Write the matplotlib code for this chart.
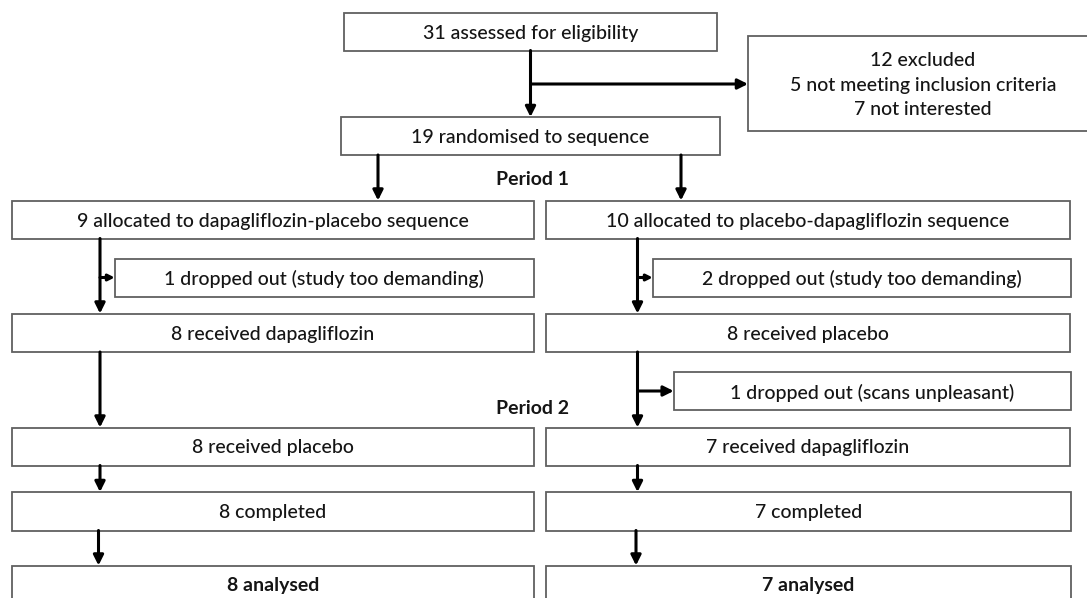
import matplotlib
matplotlib.use("Agg")
import matplotlib.pyplot as plt
from matplotlib.patches import Rectangle

# ---- data (counts and labels) ----
assessed = 31
excluded = 12
excluded_reasons = ["not meeting inclusion criteria", "not interested"]
excluded_counts = [5, 7]
randomised = 19
sequences = ["dapagliflozin-placebo", "placebo-dapagliflozin"]
allocated = [9, 10]
dropout_p1 = [1, 2]
dropout_p1_reason = ["study too demanding", "study too demanding"]
period1_drug = ["dapagliflozin", "placebo"]
received_p1 = [8, 8]
dropout_p2 = [0, 1]
dropout_p2_reason = ["", "scans unpleasant"]
period2_drug = ["placebo", "dapagliflozin"]
received_p2 = [8, 7]
completed = [8, 7]
analysed = [8, 7]
period_labels = ["Period 1", "Period 2"]

# ---- layout ----
W, H = 1087, 598
fig = plt.figure(figsize=(W / 100, H / 100), dpi=100)
ax = fig.add_axes([0, 0, 1, 1])
ax.set_xlim(0, W)
ax.set_ylim(H, 0)
ax.axis("off")

FONT = "Lato"
FS = 14
BOX_EC = "#606060"
BOX_LW = 1.3
ARR_LW = 2.2
TXT = "#151515"
DY = 1.5  # small downward text offset


def box(x0, y0, x1, y1, text, bold=False, ty=None, ls=1.3):
    r = Rectangle((x0, y0), x1 - x0, y1 - y0, facecolor="white",
                  edgecolor=BOX_EC, linewidth=BOX_LW, clip_on=True)
    ax.add_patch(r)
    if text:
        yc = (y0 + y1) / 2 + DY if ty is None else ty
        ax.text((x0 + x1) / 2, yc, text,
                ha="center", va="center", fontsize=FS, family=FONT,
                fontweight="bold" if bold else "medium", color=TXT,
                linespacing=ls)


def arrow(x0, y0, x1, y1, ms=10):
    ax.annotate("", xy=(x1, y1), xytext=(x0, y0),
                arrowprops=dict(arrowstyle="-|>,head_length=0.6,head_width=0.3",
                                lw=ARR_LW, color="black", shrinkA=0, shrinkB=0,
                                mutation_scale=ms))


# top
box(343.5, 12.5, 717, 50.5, f"{assessed} assessed for eligibility")
excl_text = f"{excluded} excluded\n" + "\n".join(
    f"{c} {r}" for c, r in zip(excluded_counts, excluded_reasons))
box(748, 36, 1098, 131, excl_text, ty=85, ls=1.52)
box(340.5, 117, 720, 155, f"{randomised} randomised to sequence")
arrow(530.5, 50.5, 530.5, 117)
arrow(530.5, 84, 748, 84)

# arms
L = [11.5, 534]
R = [546, 1069.5]
cols = [L, R]
vx = [100, 637.5]
alloc_x = [378, 681]
drop1_x0 = [114.7, 652.7]

for lab, yy in zip(period_labels, [179.5, 408]):
    ax.text(532, yy, lab, ha="center", va="center",
            fontsize=FS, family=FONT, fontweight="bold", color=TXT)

for i in range(2):
    x0, x1 = cols[i]
    xr = x1 + (1.5 if i == 1 else 0)
    arrow(alloc_x[i], 155, alloc_x[i], 200.5)
    box(x0, 200.5, x1, 238.5,
        f"{allocated[i]} allocated to {sequences[i]} sequence")
    box(drop1_x0[i], 258.5, xr, 296.5,
        f"{dropout_p1[i]} dropped out ({dropout_p1_reason[i]})")
    arrow(vx[i], 238.5, vx[i], 313.5)
    arrow(vx[i], 277.5, drop1_x0[i], 277.5, ms=6)
    box(x0, 313.5, x1, 352, f"{received_p1[i]} received {period1_drug[i]}")
    arrow(vx[i], 352, vx[i], 427.5)
    if dropout_p2[i] > 0:
        box(673.7, 372, xr, 410,
            f"{dropout_p2[i]} dropped out ({dropout_p2_reason[i]})")
        arrow(vx[i], 391, 673.7, 391)
    box(x0, 427.5, x1, 465.5, f"{received_p2[i]} received {period2_drug[i]}")
    arrow(vx[i], 465.5, vx[i], 492)
    box(x0, 492, xr, 530.5, f"{completed[i]} completed")
    arrow(vx[i] - 1.5, 530.5, vx[i] - 1.5, 565.5)
    box(x0, 565.5, xr, 610, f"{analysed[i]} analysed", bold=True, ty=586)

fig.savefig("out.png", dpi=100, facecolor="white")
